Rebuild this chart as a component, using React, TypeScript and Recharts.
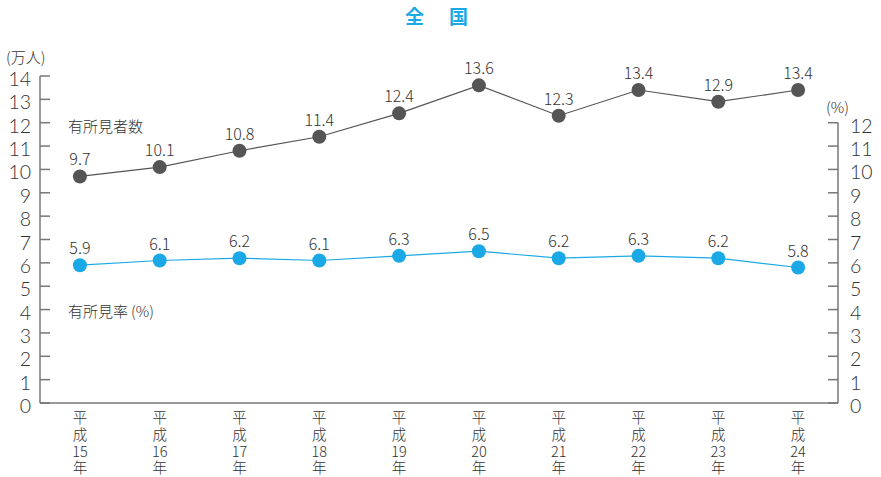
import { LineChart, Line, XAxis, YAxis, LabelList, ReferenceLine } from 'recharts';

const years = ['15', '16', '17', '18', '19', '20', '21', '22', '23', '24'];
const patients = [9.7, 10.1, 10.8, 11.4, 12.4, 13.6, 12.3, 13.4, 12.9, 13.4];
const rates = [5.9, 6.1, 6.2, 6.1, 6.3, 6.5, 6.2, 6.3, 6.2, 5.8];
const leftTicks = [0, 1, 2, 3, 4, 5, 6, 7, 8, 9, 10, 11, 12, 13, 14];
const rightTicks = [0, 1, 2, 3, 4, 5, 6, 7, 8, 9, 10, 11, 12];

const data = years.map((y, i) => ({ idx: i, year: y, patients: patients[i], rate: rates[i] }));

const FONT = "'Noto Sans CJK JP', 'Noto Sans', sans-serif";
const NUM_FONT = "Lato, 'Noto Sans', sans-serif";
const AXIS = '#777';
const TEXT = '#333';
const GREY = '#555';
const BLUE = '#1aa9e6';

const LeftTick = (props: any) => {
  const { y, payload } = props;
  return (
    <g>
      <line x1={40} x2={50} y1={y} y2={y} stroke={AXIS} strokeWidth={1.5} />
      <text x={31} y={y} dy={10} textAnchor="end" fontSize={19.5} fill={TEXT} fontFamily={NUM_FONT} fontWeight={300}>
        {payload.value}
      </text>
    </g>
  );
};

const RightTick = (props: any) => {
  const { y, payload } = props;
  return (
    <g>
      <line x1={828} x2={838} y1={y} y2={y} stroke={AXIS} strokeWidth={1.5} />
      <text x={850} y={y} dy={10} textAnchor="start" fontSize={19.5} fill={TEXT} fontFamily={NUM_FONT} fontWeight={300}>
        {payload.value}
      </text>
    </g>
  );
};

const YearTick = (props: any) => {
  const { x, payload } = props;
  const yr = years[payload.value];
  return (
    <text x={x} textAnchor="middle" fontSize={14.5} fill={TEXT} fontFamily={FONT} fontWeight={300}>
      <tspan x={x} y={423}>平</tspan>
      <tspan x={x} y={440}>成</tspan>
      <tspan x={x} y={457}>{yr}</tspan>
      <tspan x={x} y={473}>年</tspan>
    </text>
  );
};

export default function App() {
  return (
    <div style={{ position: 'absolute', left: 0, top: 0, width: 881, height: 477, background: '#fff', fontFamily: FONT }}>
      <div style={{ position: 'absolute', left: 405, top: 2, color: BLUE, fontSize: 19, fontWeight: 700 }}>全</div>
      <div style={{ position: 'absolute', left: 449, top: 2, color: BLUE, fontSize: 19, fontWeight: 700 }}>国</div>
      <div style={{ position: 'absolute', left: 6, top: 46, fontSize: 15, color: TEXT, fontWeight: 300 }}>(万人)</div>
      <div style={{ position: 'absolute', left: 826, top: 96, fontSize: 15, color: TEXT, fontWeight: 300 }}>(%)</div>
      <div style={{ position: 'absolute', left: 68, top: 115, fontSize: 15, color: TEXT, fontWeight: 300 }}>有所見者数</div>
      <div style={{ position: 'absolute', left: 68, top: 300, fontSize: 15, color: TEXT, fontWeight: 300 }}>
        有所見率<span style={{ marginLeft: 3 }}>(%)</span>
      </div>
      <LineChart width={881} height={477} data={data} margin={{ top: 76, right: 0, bottom: 0, left: 0 }}>
        <XAxis
          dataKey="idx"
          type="number"
          domain={[-0.5, 9.5]}
          ticks={[0, 1, 2, 3, 4, 5, 6, 7, 8, 9]}
          height={74}
          tickLine={false}
          axisLine={{ stroke: AXIS, strokeWidth: 1.5 }}
          tick={<YearTick />}
          interval={0}
        />
        <YAxis
          yAxisId="left"
          domain={[0, 14]}
          ticks={leftTicks}
          width={40}
          tickLine={false}
          axisLine={{ stroke: AXIS, strokeWidth: 1.5 }}
          tick={<LeftTick />}
          interval={0}
        />
        <YAxis
          yAxisId="right"
          orientation="right"
          domain={[0, 14]}
          ticks={rightTicks}
          width={43}
          tickLine={false}
          axisLine={false}
          tick={<RightTick />}
          interval={0}
        />
        <ReferenceLine
          yAxisId="right"
          segment={[{ x: 9.5, y: 0 }, { x: 9.5, y: 12 }]}
          stroke={AXIS}
          strokeWidth={1.5}
        />
        <Line
          yAxisId="left"
          dataKey="patients"
          stroke={GREY}
          strokeWidth={1.2}
          dot={{ r: 7, fill: GREY, stroke: GREY, strokeWidth: 0 }}
          isAnimationActive={false}
        >
          <LabelList dataKey="patients" position="top" offset={11} fontSize={16} fill={TEXT} fontFamily={FONT} fontWeight={300} />
        </Line>
        <Line
          yAxisId="right"
          dataKey="rate"
          stroke={BLUE}
          strokeWidth={1.2}
          dot={{ r: 7, fill: BLUE, stroke: BLUE, strokeWidth: 0 }}
          isAnimationActive={false}
        >
          <LabelList dataKey="rate" position="top" offset={11} fontSize={16} fill={TEXT} fontFamily={FONT} fontWeight={300} />
        </Line>
      </LineChart>
    </div>
  );
}
